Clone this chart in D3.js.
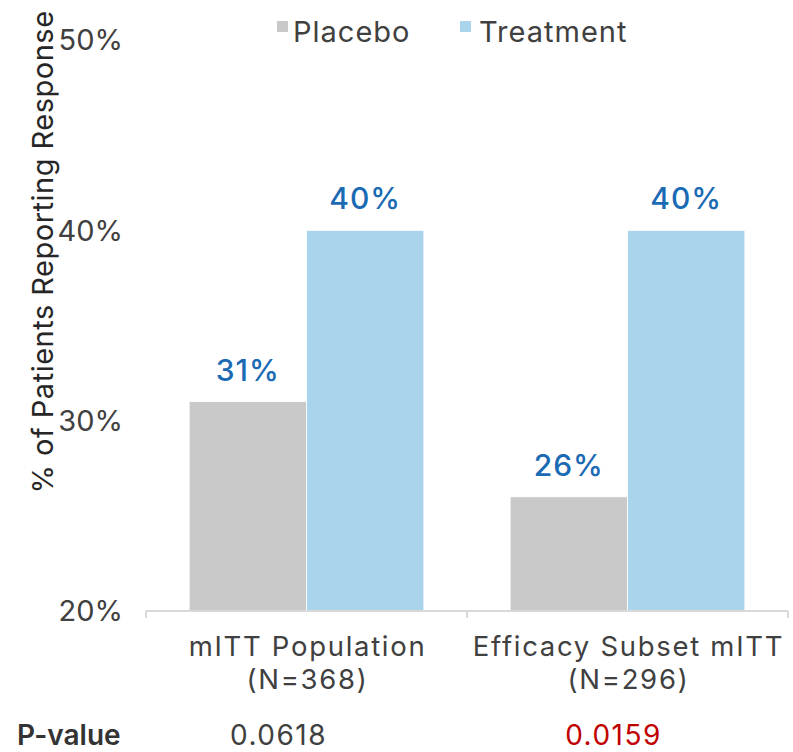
<!DOCTYPE html>
<html>
<head>
<meta charset="utf-8">
<script src="https://cdn.jsdelivr.net/npm/d3@7"></script>
<style>
  html, body { margin: 0; padding: 0; background: #fff; }
  svg text { font-family: Inter, "Open Sans", sans-serif; }
</style>
</head>
<body>
<svg id="chart" width="793" height="752"></svg>
<script>
// Response rates by analysis population
const categories = ["mITT Population", "Efficacy Subset mITT"];
const categorySizes = ["(N=368)", "(N=296)"];
const seriesNames = ["Placebo", "Treatment"];
const placebo = [31, 26];
const treatment = [40, 40];
const pValues = ["0.0618", "0.0159"];
const pSignificant = [false, true];
const yTicks = [20, 30, 40, 50];

const colors = { Placebo: "#c9c9c9", Treatment: "#a9d4ec" };
const textColor = "#404040";
const labelColor = "#1a6ab4";

const svg = d3.select("#chart");
const margin = { left: 146, right: 5, top: 40, bottom: 141 };
const width = 793, height = 752;
const plotBottom = height - margin.bottom; // 611

const x = d3.scaleBand()
  .domain(categories)
  .range([margin.left, width - margin.right])
  .paddingInner(0)
  .paddingOuter(0);

const x1 = d3.scaleBand()
  .domain(seriesNames)
  .range([0, x.bandwidth()])
  .paddingInner(0)
  .paddingOuter(0.3675);

const y = d3.scaleLinear()
  .domain([20, 50])
  .range([plotBottom, margin.top]);

// y tick labels (no axis line)
svg.append("g")
  .selectAll("text")
  .data(yTicks)
  .join("text")
  .attr("x", 123)
  .attr("y", d => y(d))
  .attr("dy", "0.36em")
  .attr("text-anchor", "end")
  .attr("font-size", 29)
  .attr("fill", textColor)
  .text(d => d + "%");

// bars
const rows = categories.map((c, i) => ({ cat: c, values: [
  { key: "Placebo", value: placebo[i] },
  { key: "Treatment", value: treatment[i] }
]}));

const groups = svg.append("g")
  .selectAll("g")
  .data(rows)
  .join("g")
  .attr("transform", d => `translate(${x(d.cat)},0)`);

groups.selectAll("rect")
  .data(d => d.values)
  .join("rect")
  .attr("x", d => x1(d.key))
  .attr("width", x1.bandwidth())
  .attr("y", d => y(d.value))
  .attr("height", d => y(20) - y(d.value))
  .attr("fill", d => colors[d.key])
  .attr("stroke", "#ffffff")
  .attr("stroke-width", 0.8);

groups.selectAll("text.val")
  .data(d => d.values)
  .join("text")
  .attr("class", "val")
  .attr("x", d => x1(d.key) + x1.bandwidth() / 2)
  .attr("y", d => y(d.value) - 21)
  .attr("text-anchor", "middle")
  .attr("font-size", 30)
  .attr("font-weight", 500)
  .attr("letter-spacing", 1)
  .attr("fill", labelColor)
  .text(d => d.value + "%");

// x axis line with tick marks at category boundaries
const axisG = svg.append("g");
axisG.append("line")
  .attr("x1", x.range()[0]).attr("x2", x.range()[1])
  .attr("y1", plotBottom).attr("y2", plotBottom)
  .attr("stroke", "#d9d9d9").attr("stroke-width", 2);
const boundaries = [x.range()[0], ...categories.slice(1).map(c => x(c)), x.range()[1]];
axisG.selectAll("line.tick")
  .data(boundaries)
  .join("line")
  .attr("class", "tick")
  .attr("x1", d => d).attr("x2", d => d)
  .attr("y1", plotBottom).attr("y2", plotBottom + 7)
  .attr("stroke", "#d9d9d9").attr("stroke-width", 2);

// category labels
const catG = svg.append("g");
categories.forEach((c, i) => {
  const cx = x(c) + x.bandwidth() / 2 + 1;
  const t = catG.append("text")
    .attr("text-anchor", "middle")
    .attr("font-size", 27.5)
    .attr("letter-spacing", 1.7)
    .attr("fill", textColor);
  t.append("tspan").attr("x", cx).attr("y", 656).text(c);
  t.append("tspan").attr("x", cx).attr("y", 689).text(categorySizes[i]);
});

// P-value row
svg.append("text")
  .attr("x", 17).attr("y", 745)
  .attr("font-size", 28)
  .attr("font-weight", 600)
  .attr("fill", "#333333")
  .text("P-value");

svg.append("g")
  .selectAll("text")
  .data(categories)
  .join("text")
  .attr("x", (d, i) => x(d) + x.bandwidth() / 2 - (i === 0 ? 28 : 14))
  .attr("y", 745)
  .attr("text-anchor", "middle")
  .attr("font-size", 28)
  .attr("letter-spacing", 1.5)
  .attr("fill", (d, i) => pSignificant[i] ? "#c00000" : textColor)
  .text((d, i) => pValues[i]);

// y axis title
svg.append("text")
  .attr("transform", "translate(53,252) rotate(-90)")
  .attr("text-anchor", "middle")
  .attr("font-size", 29)
  .attr("letter-spacing", 0.5)
  .attr("fill", "#262626")
  .text("% of Patients Reporting Response");

// legend
const legendItems = [
  { name: "Placebo", sx: 277, tx: 293 },
  { name: "Treatment", sx: 460, tx: 479 }
];
const legend = svg.append("g");
legend.selectAll("rect")
  .data(legendItems)
  .join("rect")
  .attr("x", d => d.sx).attr("y", 21)
  .attr("width", 11).attr("height", 11)
  .attr("fill", d => colors[d.name]);
legend.selectAll("text")
  .data(legendItems)
  .join("text")
  .attr("x", d => d.tx).attr("y", 42)
  .attr("font-size", 29)
  .attr("letter-spacing", 1)
  .attr("fill", textColor)
  .text(d => d.name);
</script>
</body>
</html>
